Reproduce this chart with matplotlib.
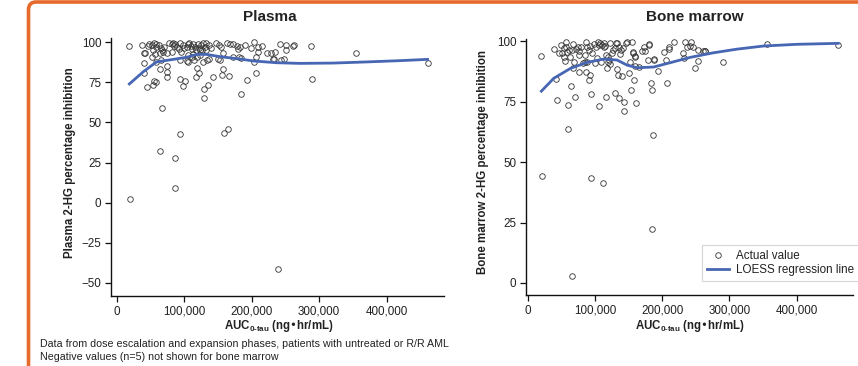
import matplotlib
matplotlib.use("Agg")
import matplotlib.pyplot as plt
from matplotlib.patches import FancyBboxPatch
from matplotlib.lines import Line2D

plt.rcParams['font.family'] = ['Liberation Sans', 'DejaVu Sans']

# Plasma: AUC (thousand ng*hr/mL) vs % inhibition
plasma_auc = [18.8, 19.8, 40.5, 40.5, 41, 44.4, 54.3, 55.3, 59, 59, 64.2, 65.7, 67.7, 64.2,
              74.6, 74, 74, 86, 86, 93.8, 93.8, 97.8, 101.7, 105, 114.6, 119, 117.5, 122.5,
              128.9, 128.9, 135.8, 133.8, 143.2, 153, 155.6, 158, 159, 165.4, 166, 183.7,
              192.6, 203.5, 206.4, 206.4, 208.9, 238.5, 290, 287.4, 355, 460.7, 223, 228,
              234, 231, 233, 243, 248, 251, 242, 251, 261, 263, 216, 210, 203.5, 198.5, 190,
              182.8, 178, 172, 168, 163, 154.6, 158, 172.8, 181.7, 183.7, 180, 150.6, 137,
              133, 126.9, 123.5, 127.4, 103.7, 93.8, 111, 118.5,
              37, 46, 48.4, 52.3, 55, 58, 59, 63, 65, 67.7, 70, 69, 78, 81.5, 84, 85, 86.4,
              89, 92.3, 93.8, 95.3, 97.8, 100, 103.7, 105, 107.7, 109.6, 111.6, 113.6, 116,
              117.5, 120, 121.9, 125, 128.4, 130.9, 133, 136.3, 139.3, 147, 151, 53.3, 42,
              51.9, 56.3, 64.2, 75, 81.5, 113.6, 123.5, 106.2]
plasma_inh = [97.3, 2.3, 87.1, 80.9, 93, 72.2, 73, 75.5, 75.3, 87.8, 83, 88.8, 59.1, 32,
              85, 81.5, 78.2, 28, 9.1, 42.5, 77, 72.8, 75.9, 87.3, 88.8, 84, 78.4, 80.5,
              71, 65.4, 73.4, 88.6, 78, 88.8, 79.5, 83, 43.2, 45.6, 78.8, 67.6,
              76.3, 87.6, 80.9, 90.9, 93.6, -41.5, 77, 97.5, 93.4, 86.7, 93, 93.4,
              93.6, 89.4, 89.2, 88.8, 89.6, 95, 98.5, 98.3, 97.5, 98.3, 97.5, 97, 99.8, 96.5, 98.1,
              96.9, 97.5, 98.5, 98.5, 99.4, 96.7, 93, 90.9, 90.9, 90, 95.4, 89.2, 89.6,
              95, 95, 95, 87.8, 88, 88.8, 90.5, 90.9,
              98.1, 97.3, 99, 98.3, 99.6, 98.8, 97, 97.9, 96, 95, 97, 94, 99.6, 98.8, 99.6, 97.5, 98.5,
              96.9, 95.9, 99.4, 94, 97.9, 96, 97, 98.8, 99.6, 97.5, 95.6, 98.5, 97,
              95, 98.8, 96.5, 97.9, 99.2, 96.9, 99.6, 98.1, 96, 99.2, 97.9, 95, 93.4,
              90.9, 92.3, 93, 93, 93.6, 92.5, 91.9, 91.9]
plasma_loess_auc = [18.8, 39.5, 59, 84, 103.7, 118.5, 133, 153, 182.8, 202.5, 237, 271.6,
                    321, 370, 419.8, 460.7]
plasma_loess_inh = [73.9, 81.5, 87.6, 89.2, 90.5, 92.3, 92.3, 90.9, 89.4, 88.2, 87.1, 86.7,
                    86.9, 87.6, 88.4, 89.2]

# Bone marrow
bm_auc = [19.9, 21.3, 38.2, 41.2, 43.7, 46.7, 49.6, 53.1, 55.6, 56.6, 59.6, 60, 58, 62, 64.5,
          65, 66.5, 67, 69.5, 68, 75, 75.4, 79.4, 81.4, 84.4, 85.9, 86.8, 88.3, 90.3, 92.3,
          94.3, 94.3, 95.3, 97.8, 99.3, 102.7, 104.2, 105.7, 108.2, 111.2, 112.7, 115.6,
          116.6, 117.6, 118.6, 120.6, 122.6, 125, 129, 130.5, 132.5, 134, 135.4, 137.5, 139.9,
          141, 142.4, 142.4, 145.4, 149.9, 152.4, 153.3, 154.3, 155.8, 158.3, 159.8, 159.8,
          160.3, 165.8, 172.2, 173.7, 179.2, 180.6, 183.6, 184.1, 184.1, 186.6, 187.1, 193.5,
          202.9, 205.9, 207.4, 209.9, 217.4, 230.6, 234, 233, 237, 243.2, 245, 249.1, 252.6,
          253.1, 260.4, 263, 290.8, 356.3, 462,
          50.6, 54, 57, 61, 65, 71, 75.4, 76.4, 84.4, 87.8, 90.3, 92.8, 100.7, 105.2, 107.7,
          109.7, 112.7, 115.1, 119.1, 122.6, 126.6, 129.5, 132.5, 135, 138.5, 147.4, 156.3,
          159.3, 170.2, 180.1, 188.1, 209.4, 240.7, 264]
bm_inh = [94.1, 44.1, 96.7, 84.4, 75.6, 95, 98.5, 97.1, 91.9, 99.6, 73.5, 63.7, 95.7, 93.4, 81.5,
          2.8, 88.8, 98.9, 76.8, 91.4, 97.5, 87.3, 97.8, 90.9, 94.2, 99.9, 87.4, 91.3, 84, 86.1,
          78.1, 43.3, 95.3, 98.9, 91.2, 93, 99.7, 73.1, 91.3, 41.2, 97.8, 76.8,
          94.5, 88.8, 91.6, 92.3, 90.8, 95, 78.8, 99.2, 88.6, 86.3, 76.7, 94.6, 85.7,
          97.1, 74.9, 71, 99.2, 87, 91.3, 79.9, 99.6, 95.3, 83.9, 93.7, 89.7,
          74.6, 89.5, 97.5, 96.1, 92.3, 98.5, 82.8, 79.7, 22.3, 61.2, 92.8, 87.9,
          95.7, 92.3, 82.8, 97.7, 99.7, 95, 99.6, 93.1, 97.8, 99.6, 97.8, 88.8, 96.4,
          91.7, 96, 96.1, 91.3, 98.8, 98.5,
          95.3, 93.7, 97.8, 96.4, 96.4, 97, 94.3, 96, 91.6, 97.5, 96.6, 98.1, 97.8, 98.5, 99.4,
          98.5, 99.4, 98.3, 93.4, 99.4, 96.4, 97.1, 99.2, 97.8, 96.4, 99.9, 95.7,
          94.1, 96.1, 99, 92.3, 96.7, 98.2, 96.1]
bm_loess_auc = [19.9, 38.2, 63, 87.8, 112.7, 132.5, 147.4, 162.3, 187.1, 211.9, 241.7, 276.4,
                311.2, 350.9, 400.5, 462]
bm_loess_inh = [79.4, 84.7, 88.8, 91.3, 92.7, 92.3, 90.2, 89.1, 89.4, 91.2, 93.4, 95.3,
                96.8, 98.1, 98.8, 99.2]

xticks = [0, 100000, 200000, 300000, 400000]
xtick_labels = ['0', '100,000', '200,000', '300,000', '400,000']
plasma_yticks = [100, 75, 50, 25, 0, -25, -50]
bm_yticks = [100, 75, 50, 25, 0]

W, H = 858, 366
fig = plt.figure(figsize=(W / 100, H / 100), dpi=100)

# orange frame (only top and left edges fall inside the figure)
frame = FancyBboxPatch((28.5 / W, -0.2), 1.2, (1 - 2 / H) + 0.2,
                       boxstyle="round,pad=0,rounding_size=0.009",
                       mutation_aspect=W / H,
                       transform=fig.transFigure, facecolor='none',
                       edgecolor='#E66A2C', linewidth=2.6, clip_on=False)
fig.patches.append(frame)

marker_kw = dict(linestyle='none', marker='o', markersize=4.0, markerfacecolor='none',
                 markeredgecolor='#333333', markeredgewidth=0.6)
line_kw = dict(color='#4766B3', linewidth=2.0)
tick_color = '#222222'


def style_axis(ax, xlim, ylim, yticks):
    ax.set_xlim(*xlim)
    ax.set_ylim(*ylim)
    ax.set_xticks(xticks)
    ax.set_xticklabels(xtick_labels)
    ax.set_yticks(yticks)
    ax.set_yticklabels([str(v).replace('-', '\u2212') for v in yticks])
    for s in ('top', 'right'):
        ax.spines[s].set_visible(False)
    for s in ('left', 'bottom'):
        ax.spines[s].set_linewidth(1.0)
        ax.spines[s].set_color('#111111')
    ax.tick_params(axis='both', length=4, width=0.9, labelsize=8.4,
                   colors='#111111', labelcolor=tick_color, pad=3)


ax1 = fig.add_axes([111 / W, 1 - 296 / H, 333 / W, 258 / H])
ax1.plot([a * 1000 for a in plasma_auc], plasma_inh, **marker_kw)
ax1.plot([a * 1000 for a in plasma_loess_auc], plasma_loess_inh, **line_kw)
style_axis(ax1, (-8400, 485000), (-58.1, 102.5), plasma_yticks)

ax2 = fig.add_axes([526 / W, 1 - 295 / H, 327 / W, 256 / H])
ax2.plot([a * 1000 for a in bm_auc], bm_inh, **marker_kw)
ax2.plot([a * 1000 for a in bm_loess_auc], bm_loess_inh, **line_kw)
style_axis(ax2, (-3000, 484000), (-5, 101), bm_yticks)

# titles
fig.text(270 / W, 1 - 17 / H, 'Plasma', ha='center', va='center',
         fontsize=11, fontweight='bold', color='#222222')
fig.text(695 / W, 1 - 17 / H, 'Bone marrow', ha='center', va='center',
         fontsize=11, fontweight='bold', color='#222222')

# axis labels
fig.text(70 / W, 1 - 163 / H, 'Plasma 2-HG percentage inhibition', rotation=90,
         ha='center', va='center', fontsize=8.3, fontweight='bold', color='#222222')
fig.text(483 / W, 1 - 162 / H, 'Bone marrow 2-HG percentage inhibition', rotation=90,
         ha='center', va='center', fontsize=8.3, fontweight='bold', color='#222222')
xlab = 'AUC$_{\\mathregular{0\u2010tau}}$ (ng\u2022hr/mL)'
fig.text(279 / W, 1 - 326 / H, xlab, ha='center', va='center',
         fontsize=8.3, fontweight='bold', color='#222222')
fig.text(690 / W, 1 - 326 / H, xlab, ha='center', va='center',
         fontsize=8.3, fontweight='bold', color='#222222')

# legend
handles = [Line2D([], [], **marker_kw), Line2D([], [], **line_kw)]
leg = ax2.legend(handles, ['Actual value', 'LOESS regression line'],
                 loc='upper left', bbox_to_anchor=(702 / W, 1 - 245 / H),
                 bbox_transform=fig.transFigure, fontsize=8.4, frameon=True,
                 fancybox=False, edgecolor='#cccccc', handlelength=1.9,
                 handletextpad=0.6, borderpad=0.4, labelspacing=0.2, borderaxespad=0)
leg.get_frame().set_linewidth(0.8)
for t in leg.get_texts():
    t.set_color('#222222')

# footnote
fig.text(40 / W, 1 - 344 / H,
         'Data from dose escalation and expansion phases, patients with untreated or R/R AML',
         ha='left', va='center', fontsize=7.65, color='#222222')
fig.text(40 / W, 1 - 357 / H, 'Negative values (n=5) not shown for bone marrow',
         ha='left', va='center', fontsize=7.65, color='#222222')

fig.savefig('out.png', dpi=100)
